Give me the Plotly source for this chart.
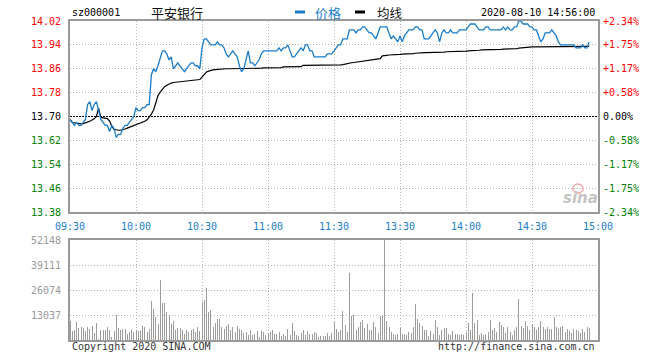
import plotly.graph_objects as go

# ---------------- data ----------------
prev_close = 13.70

prices = [
    13.69, 13.68, 13.67, 13.68, 13.67, 13.67, 13.68, 13.69, 13.74, 13.75,
    13.72, 13.74, 13.75, 13.72, 13.69, 13.68, 13.67, 13.67, 13.65, 13.67,
    13.66, 13.63, 13.64, 13.64, 13.66, 13.67, 13.67, 13.68, 13.69, 13.70,
    13.73, 13.72, 13.72, 13.73, 13.73, 13.74, 13.74, 13.84, 13.86, 13.85,
    13.87, 13.90, 13.92, 13.92, 13.91, 13.89, 13.90, 13.86, 13.87, 13.88,
    13.87, 13.86, 13.85, 13.86, 13.87, 13.88, 13.88, 13.87, 13.87, 13.86,
    13.93, 13.96, 13.96, 13.95, 13.94, 13.94, 13.94, 13.95, 13.94, 13.94,
    13.93, 13.91, 13.90, 13.91, 13.92, 13.91, 13.90, 13.87, 13.85, 13.86,
    13.89, 13.92, 13.88, 13.88, 13.87, 13.88, 13.89, 13.91, 13.92, 13.92,
    13.92, 13.92, 13.92, 13.92, 13.92, 13.93, 13.92, 13.93, 13.93, 13.94,
    13.92, 13.90, 13.90, 13.91, 13.92, 13.93, 13.92, 13.94, 13.94, 13.92,
    13.92, 13.90, 13.90, 13.90, 13.90, 13.90, 13.90, 13.91, 13.91, 13.91,
    13.92, 13.93, 13.94, 13.94, 13.96, 13.96, 13.96, 13.99, 13.99, 13.99,
    13.98, 13.99, 13.99, 14.00, 14.00, 13.99, 13.98, 13.98, 13.97, 13.96,
    13.98, 14.00, 14.00, 14.00, 14.00, 13.98, 13.96, 13.97, 13.96, 13.95,
    13.97, 13.95, 13.97, 13.98, 13.99, 13.99, 13.99, 14.00, 14.00, 13.99,
    13.99, 13.96, 13.96, 13.96, 13.97, 13.98, 13.99, 13.98, 13.95, 13.98,
    13.99, 13.98, 13.98, 13.99, 13.98, 13.98, 13.98, 13.99, 13.99, 13.99,
    13.99, 14.00, 14.01, 14.01, 14.01, 14.00, 13.99, 13.99, 13.99, 14.00,
    14.00, 13.99, 13.99, 13.99, 13.99, 13.99, 13.99, 14.00, 13.99, 14.00,
    13.99, 13.99, 14.00, 14.00, 14.02, 14.02, 14.01, 14.01, 14.01, 14.00,
    14.00, 13.99, 13.99, 13.97, 13.95, 13.96, 13.98, 13.98, 13.98, 13.99,
    13.98, 13.97, 13.95, 13.94, 13.94, 13.94, 13.94, 13.94, 13.94, 13.94,
    13.93, 13.93, 13.93, 13.94, 13.93, 13.93, 13.95,
]

avg_prices = [
    13.690, 13.680, 13.679, 13.677, 13.675, 13.675, 13.676, 13.678, 13.681, 13.684,
    13.688, 13.692, 13.700, 13.728, 13.697, 13.695, 13.694, 13.693, 13.685, 13.667,
    13.657, 13.655, 13.654, 13.654, 13.655, 13.658, 13.661, 13.664, 13.667, 13.670,
    13.673, 13.675, 13.677, 13.680, 13.684, 13.689, 13.697, 13.708, 13.722, 13.745,
    13.770, 13.782, 13.793, 13.800, 13.805, 13.809, 13.812, 13.814, 13.815, 13.816,
    13.816, 13.817, 13.818, 13.819, 13.820, 13.821, 13.822, 13.823, 13.824, 13.824,
    13.832, 13.842, 13.849, 13.852, 13.855, 13.856, 13.857, 13.858, 13.858, 13.859,
    13.859, 13.860, 13.860, 13.860, 13.860, 13.860, 13.860, 13.860, 13.860, 13.861,
    13.861, 13.861, 13.861, 13.861, 13.861, 13.861, 13.861, 13.862, 13.863, 13.863,
    13.863, 13.863, 13.863, 13.863, 13.863, 13.864, 13.864, 13.866, 13.866, 13.866,
    13.866, 13.866, 13.866, 13.866, 13.867, 13.867, 13.871, 13.871, 13.871, 13.871,
    13.871, 13.871, 13.871, 13.871, 13.871, 13.871, 13.871, 13.871, 13.871, 13.871,
    13.871, 13.871, 13.872, 13.873, 13.874, 13.876, 13.877, 13.879, 13.880, 13.881,
    13.882, 13.883, 13.884, 13.885, 13.886, 13.887, 13.888, 13.889, 13.890, 13.891,
    13.892, 13.894, 13.903, 13.905, 13.905, 13.906, 13.906, 13.907, 13.907, 13.908,
    13.908, 13.909, 13.909, 13.910, 13.910, 13.910, 13.911, 13.912, 13.913, 13.913,
    13.913, 13.914, 13.914, 13.914, 13.915, 13.915, 13.915, 13.916, 13.916, 13.916,
    13.916, 13.917, 13.917, 13.917, 13.917, 13.918, 13.918, 13.918, 13.918, 13.919,
    13.919, 13.920, 13.920, 13.921, 13.921, 13.922, 13.922, 13.923, 13.923, 13.924,
    13.924, 13.924, 13.924, 13.925, 13.925, 13.925, 13.925, 13.926, 13.926, 13.926,
    13.926, 13.927, 13.927, 13.927, 13.929, 13.930, 13.931, 13.932, 13.932, 13.933,
    13.933, 13.933, 13.933, 13.933, 13.933, 13.934, 13.934, 13.934, 13.934, 13.934,
    13.934, 13.935, 13.935, 13.935, 13.935, 13.935, 13.935, 13.935, 13.935, 13.935,
    13.935, 13.935, 13.935, 13.935, 13.935, 13.935, 13.935,
]

volumes = [
    10080, 4520, 5210, 9385, 6257, 6780, 6257, 4866, 6780, 5735,
    7300, 3650, 8864, 695, 5214, 5214, 5214, 6780, 5214, 1738,
    4692, 13035, 6257, 5214, 5735, 5735, 3128, 4171, 5214, 4171,
    5214,
    4692, 4692, 7300, 6780, 4171, 5735, 20335, 16163, 11992, 8342,
    31458, 19292, 19292, 14600, 13035, 8342, 9907, 5214, 6257, 6257,
    5214, 3128, 5214, 4171, 5214, 5735, 4171, 6780, 4692, 19813,
    20856, 27113, 14600, 15642, 6780, 8864, 10949, 10949, 6780, 5735,
    7300, 8342, 5214, 6780, 4171, 7300, 5735, 5214, 3650, 4171,
    2607, 5214, 2607, 3128, 4692, 1564, 4692, 4171, 2607, 3650, 4171,
    5214, 3128, 3128, 4171, 2086, 3128, 2086, 5735, 2607, 8864,
    4692, 2607, 2086, 3650, 5214, 2607, 4692, 3128, 3128, 4171,
    3650, 1564, 2086, 2086, 2086, 3650, 2086, 3650,
    9385, 5735, 4171, 5214, 15120, 7821, 4171, 34934, 12514, 13035,
    5214, 6780, 9385, 10428, 6257, 8342, 5214, 5214, 9385, 6780,
    3650, 12514, 13035, 52148, 9907, 6780, 4171, 3128, 2607, 3128,
    6257, 3128, 3128, 2607, 4171, 3650, 6780, 18770, 10949, 8864,
    7300, 5214, 5214, 2086, 4692, 3128, 10428, 6780, 2607, 5214,
    6257, 6257, 3128, 2607, 4692, 3128, 3128, 2607, 3128, 2607,
    4171, 8864, 5214, 24506, 8864, 10428, 2607, 3650, 2607, 3128,
    4171, 10428, 5214, 6257, 4171, 9385, 7821, 6780, 3650, 6780,
    4171, 2607, 5214, 6780, 21377, 7300, 6257, 9907, 7300, 5214,
    8342, 6780, 5214, 6780, 9907, 6780, 5735, 6780, 5735, 5735,
    11992, 6780, 5735, 6780, 7300, 4171, 5735, 4692, 3650, 5735,
    5214, 4692, 3650, 5735, 4171, 6780, 6257,
]

price_ticks = [14.02, 13.94, 13.86, 13.78, 13.70, 13.62, 13.54, 13.46, 13.38]
pct_labels = ["+2.34%", "+1.75%", "+1.17%", "+0.58%", "0.00%",
              "-0.58%", "-1.17%", "-1.75%", "-2.34%"]
vol_ticks = [13037, 26074, 39111, 52148]
time_pos = [0, 30, 60, 90, 120, 150, 180, 210, 240]
time_labels = ["09:30", "10:00", "10:30", "11:00", "11:30",
               "13:30", "14:00", "14:30", "15:00"]

# ---------------- styling ----------------
W, H = 660, 360
BLUE = "#1a7dc9"
RED = "#ff0000"
GREEN = "#008000"
FRAME = "#9a9a9a"
GRID = "#b4b4b4"
MONO = "DejaVu Sans Mono, Liberation Mono, monospace"
CJK = "Noto Sans CJK SC, sans-serif"


def px(x):
    return x / W


def py(y):
    return 1 - y / H


def col(v):
    if v > prev_close + 1e-9:
        return RED
    if v < prev_close - 1e-9:
        return GREEN
    return "#000000"


left_text = [f'<span style="color:{col(v)}">{v:.2f}</span>' for v in price_ticks]
right_text = [f'<span style="color:{col(v)}">{t}</span>' for v, t in zip(price_ticks, pct_labels)]

minutes = list(range(len(prices)))
vmins = list(range(len(volumes)))

fig = go.Figure()
fig.add_trace(go.Bar(x=vmins, y=volumes, width=0.45, marker=dict(color="#9c9c9c", line=dict(width=0)),
                     xaxis="x2", yaxis="y2", showlegend=False, hoverinfo="skip"))
fig.add_trace(go.Scatter(x=[0, 240], y=[prev_close, prev_close], mode="lines",
                         line=dict(color="#000000", width=1, dash="2px,1px"),
                         xaxis="x", yaxis="y", showlegend=False, hoverinfo="skip"))
fig.add_trace(go.Scatter(x=minutes, y=avg_prices, mode="lines",
                         line=dict(color="#000000", width=1.2),
                         xaxis="x", yaxis="y", showlegend=False))
fig.add_trace(go.Scatter(x=minutes, y=prices, mode="lines",
                         line=dict(color=BLUE, width=1.3),
                         xaxis="x", yaxis="y", showlegend=False))
fig.add_trace(go.Scatter(x=[0], y=[prev_close], mode="markers", opacity=0,
                         xaxis="x", yaxis="y3", showlegend=False, hoverinfo="skip"))

dom_x = [px(70), px(598)]
axis_common = dict(showline=True, linecolor=FRAME, linewidth=2, mirror=True,
                   showgrid=True, gridcolor=GRID, gridwidth=1, griddash="1px,2px",
                   zeroline=False, ticks="", automargin=False, fixedrange=True)

fig.update_layout(
    width=W, height=H, autosize=False,
    margin=dict(l=0, r=0, t=0, b=0, pad=0),
    paper_bgcolor="white", plot_bgcolor="white",
    bargap=0,
    xaxis=dict(domain=dom_x, range=[0, 240], anchor="y",
               tickmode="array", tickvals=time_pos, ticktext=time_labels,
               tickfont=dict(family=MONO, size=10, color=BLUE),
               ticklabelstandoff=4, **axis_common),
    yaxis=dict(domain=[py(212), py(21)], range=[13.38, 14.02], anchor="x",
               tickmode="array", tickvals=price_ticks, ticktext=left_text,
               tickfont=dict(family=MONO, size=10, color="#000"),
               ticklabelstandoff=5, **axis_common),
    yaxis3=dict(overlaying="y", side="right", range=[13.38, 14.02], anchor="x",
                tickmode="array", tickvals=price_ticks, ticktext=right_text,
                tickfont=dict(family=MONO, size=10, color="#000"),
                ticklabelstandoff=4, showgrid=False, showline=False, zeroline=False,
                ticks="", automargin=False, fixedrange=True),
    xaxis2=dict(domain=dom_x, range=[0, 240], anchor="y2",
                tickmode="array", tickvals=time_pos, showticklabels=False, **axis_common),
    yaxis2=dict(domain=[py(340), py(240)], range=[0, 52148], anchor="x2",
                tickmode="array", tickvals=vol_ticks, ticktext=[str(v) for v in vol_ticks],
                tickfont=dict(family=MONO, size=10, color="#999999"),
                ticklabelstandoff=5, **axis_common),
)

ann = []


def text(x, y, s, size=10, color="#000", family=MONO, xanchor="left"):
    ann.append(dict(x=px(x), y=py(y), xref="paper", yref="paper", text=s, showarrow=False,
                    xanchor=xanchor, yanchor="middle",
                    font=dict(family=family, size=size, color=color)))


text(70, 13, "sz000001", 10, "#000")
text(149, 13, "平安银行", 13, "#111", CJK)
text(313, 13, "价格", 13, BLUE, CJK)
text(375, 13, "均线", 12.5, "#111", CJK)
text(597, 13, "2020-08-10 14:56:00", 10, "#000", xanchor="right")
text(70, 346, "Copyright 2020 SINA.COM", 10, "#333")
text(597, 346, "http://finance.sina.com.cn", 10, "#333", xanchor="right")
text(580, 198, "<b><i>sina</i></b>", 15, "#c4c4c4", "DejaVu Sans, sans-serif", xanchor="center")
fig.update_layout(annotations=ann)

shapes = [
    dict(type="line", xref="paper", yref="paper", x0=px(295), x1=px(305), y0=py(12), y1=py(12),
         line=dict(color=BLUE, width=3)),
    dict(type="line", xref="paper", yref="paper", x0=px(355), x1=px(365), y0=py(12), y1=py(12),
         line=dict(color="#000", width=3)),
    dict(type="circle", xref="paper", yref="paper", x0=px(573), x1=px(583), y0=py(193), y1=py(184),
         line=dict(color="#eeaaaa", width=1.5), fillcolor="rgba(0,0,0,0)"),
]
fig.update_layout(shapes=shapes)

fig.write_html("out.html", config={"displayModeBar": False, "staticPlot": True},
               post_script="document.body.style.margin='0px';")
